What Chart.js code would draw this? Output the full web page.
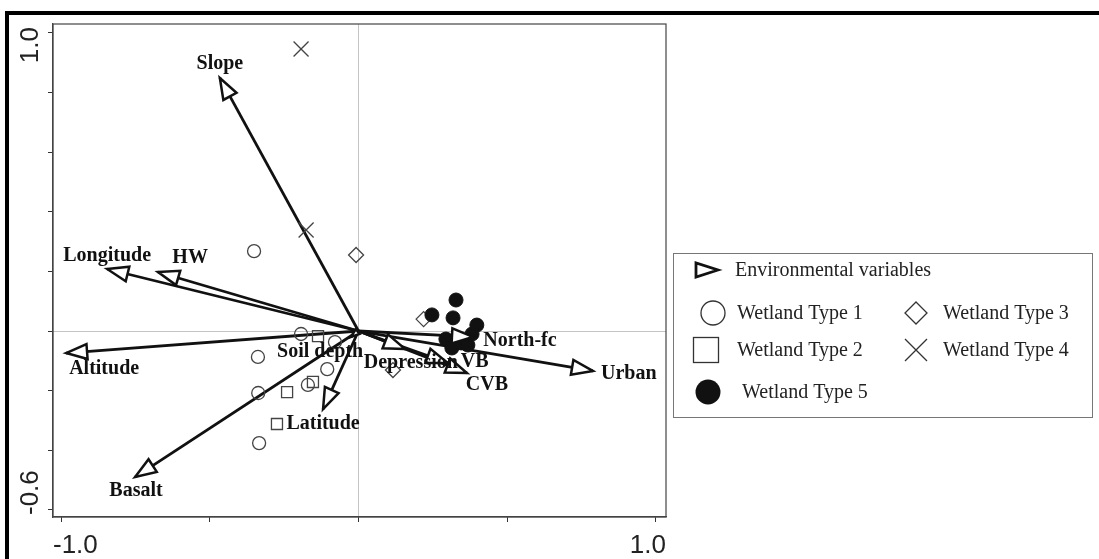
<!DOCTYPE html>
<html><head><meta charset="utf-8">
<script src="https://cdn.jsdelivr.net/npm/chart.js@4.4.0/dist/chart.umd.min.js"></script>
<style>
html,body{margin:0;padding:0;background:#fff;}
#wrap{position:relative;width:1099px;height:559px;overflow:hidden;}
#frame{position:absolute;left:5px;top:11px;right:-10px;bottom:-10px;border-top:4px solid #000;border-left:4px solid #000;pointer-events:none;}
canvas{position:absolute;left:0;top:0;}
</style></head><body>
<div id="wrap"><canvas id="c" width="1099" height="559"></canvas><div id="frame"></div></div>
<script>
// ---- data ----
const envNames = ['Slope','Longitude','HW','Altitude','Basalt','Latitude','Soil depth','Depression','VB','CVB','North-fc','Urban'];
const envX = [-0.466,-0.845,-0.674,-0.983,-0.751,-0.119,-0.025, 0.156, 0.300, 0.365, 0.385, 0.788];
const envY = [ 0.849, 0.208, 0.198,-0.074,-0.490,-0.262,-0.020,-0.060,-0.107,-0.141,-0.020,-0.134];
const envLabelX = [-0.466,-0.845,-0.566,-0.855,-0.748,-0.119,-0.129, 0.176, 0.391, 0.432, 0.543, 0.909];
const envLabelY = [ 0.896, 0.252, 0.245,-0.128,-0.537,-0.312,-0.070,-0.107,-0.104,-0.181,-0.034,-0.144];

const type1X = [-0.351,-0.193,-0.338,-0.079,-0.105,-0.170,-0.337,-0.334];
const type1Y = [ 0.268,-0.010,-0.087,-0.037,-0.128,-0.181,-0.208,-0.376];
const type2X = [-0.136,-0.240,-0.153,-0.274];
const type2Y = [-0.017,-0.205,-0.171,-0.312];
const type3X = [-0.008, 0.219, 0.116];
const type3Y = [ 0.255, 0.040,-0.131];
const type4X = [-0.193,-0.176];
const type4Y = [ 0.946, 0.339];
const type5X = [0.328,0.247,0.318,0.398,0.294,0.314,0.345,0.368,0.382];
const type5Y = [0.104,0.054,0.044,0.020,-0.027,-0.057,-0.040,-0.047,-0.010];

const xTicks = [-1.0,-0.5,0,0.5,1.0];
const yTicks = [-0.6,-0.4,-0.2,0,0.2,0.4,0.6,0.8,1.0];
const xTickLabels = ['-1.0','1.0'];
const yTickLabels = ['-0.6','1.0'];
const legendLabels = ['Environmental variables','Wetland Type 1','Wetland Type 2','Wetland Type 3','Wetland Type 4','Wetland Type 5'];

// ---- build ----
const pts = (xs, ys) => xs.map((x, i) => ({x, y: ys[i]}));
const datasets = [];
datasets.push({label:legendLabels[5], data:pts(type5X,type5Y), pointStyle:'circle', pointRadius:7, pointHoverRadius:7, backgroundColor:'#111', borderColor:'#111', borderWidth:1});
datasets.push({label:legendLabels[1], data:pts(type1X,type1Y), pointStyle:'circle', pointRadius:6.5, pointHoverRadius:6.5, backgroundColor:'rgba(0,0,0,0)', borderColor:'#444', borderWidth:1.3});
datasets.push({label:legendLabels[2], data:pts(type2X,type2Y), pointStyle:'rect', pointRadius:7.8, pointHoverRadius:7.8, backgroundColor:'rgba(0,0,0,0)', borderColor:'#444', borderWidth:1.3});
datasets.push({label:legendLabels[3], data:pts(type3X,type3Y), pointStyle:'rectRot', pointRadius:7.5, pointHoverRadius:7.5, backgroundColor:'rgba(0,0,0,0)', borderColor:'#444', borderWidth:1.3});
datasets.push({label:legendLabels[4], data:pts(type4X,type4Y), pointStyle:'crossRot', pointRadius:10.6, pointHoverRadius:10.6, backgroundColor:'rgba(0,0,0,0)', borderColor:'#444', borderWidth:1.3});
envNames.forEach((n, i) => {
  datasets.push({label:n, data:[{x:0,y:0},{x:envX[i],y:envY[i]}], showLine:true, pointRadius:0, pointHoverRadius:0, borderColor:'#111', borderWidth:2.8});
});

function head(ctx, tx, ty, ang, len, half, lw) {
  const c = Math.cos(ang), s = Math.sin(ang);
  const bx = tx - len * c, by = ty - len * s;
  ctx.beginPath();
  ctx.moveTo(tx, ty);
  ctx.lineTo(bx - half * s, by + half * c);
  ctx.lineTo(bx + half * s, by - half * c);
  ctx.closePath();
  ctx.fillStyle = '#fff';
  ctx.fill();
  ctx.lineWidth = lw;
  ctx.strokeStyle = '#111';
  ctx.lineJoin = 'miter';
  ctx.stroke();
}

const decor = {
  id: 'decor',
  afterDatasetsDraw(chart) {
    const ctx = chart.ctx, xs = chart.scales.x, ys = chart.scales.y;
    const ox = xs.getPixelForValue(0), oy = ys.getPixelForValue(0);
    ctx.save();
    envNames.forEach((n, i) => {
      const tx = xs.getPixelForValue(envX[i]), ty = ys.getPixelForValue(envY[i]);
      const d = Math.hypot(tx - ox, ty - oy);
      const ang = Math.atan2(ty - oy, tx - ox);
      const len = Math.min(21, d * 0.9);
      head(ctx, tx, ty, ang, len, len * 7.5 / 21, 2.5);
    });
    ctx.fillStyle = '#111';
    ctx.font = 'bold 20px "Liberation Serif", "Times New Roman", serif';
    ctx.textAlign = 'center';
    ctx.textBaseline = 'middle';
    envNames.forEach((n, i) => {
      ctx.fillText(n, xs.getPixelForValue(envLabelX[i]), ys.getPixelForValue(envLabelY[i]));
    });
    ctx.restore();
  },
  afterDraw(chart) {
    const ctx = chart.ctx, a = chart.chartArea;
    ctx.save();
    ctx.strokeStyle = '#444';
    ctx.lineWidth = 1.2;
    ctx.strokeRect(a.left, a.top, a.right - a.left, a.bottom - a.top);
    ctx.fillStyle = '#222';
    ctx.font = '26px "Liberation Sans", Arial, sans-serif';
    ctx.textBaseline = 'alphabetic';
    ctx.textAlign = 'left';
    ctx.fillText(xTickLabels[0], a.left, 553);
    ctx.textAlign = 'right';
    ctx.fillText(xTickLabels[1], a.right, 553);
    ctx.save();
    ctx.translate(38, a.bottom - 2);
    ctx.rotate(-Math.PI / 2);
    ctx.textAlign = 'left';
    ctx.fillText(yTickLabels[0], 0, 0);
    ctx.restore();
    ctx.save();
    ctx.translate(38, a.top + 3);
    ctx.rotate(-Math.PI / 2);
    ctx.textAlign = 'right';
    ctx.fillText(yTickLabels[1], 0, 0);
    ctx.restore();
    // legend
    ctx.strokeStyle = '#777';
    ctx.lineWidth = 1;
    ctx.strokeRect(673.5, 253.5, 419, 164);
    ctx.font = '20px "Liberation Serif", "Times New Roman", serif';
    ctx.textAlign = 'left';
    ctx.textBaseline = 'middle';
    head(ctx, 718, 270, 0, 22, 7, 2.8);
    ctx.fillStyle = '#222';
    ctx.fillText(legendLabels[0], 735, 271);
    ctx.fillText(legendLabels[1], 737, 314);
    ctx.fillText(legendLabels[3], 943, 314);
    ctx.fillText(legendLabels[2], 737, 351);
    ctx.fillText(legendLabels[4], 943, 351);
    ctx.fillText(legendLabels[5], 742, 393);
    ctx.strokeStyle = '#333';
    ctx.lineWidth = 1.3;
    ctx.beginPath(); ctx.arc(713, 313, 12, 0, Math.PI * 2); ctx.stroke();
    ctx.strokeRect(693.5, 337.5, 25, 25);
    ctx.beginPath();
    ctx.moveTo(916, 302); ctx.lineTo(927, 313); ctx.lineTo(916, 324); ctx.lineTo(905, 313); ctx.closePath(); ctx.stroke();
    ctx.beginPath();
    ctx.moveTo(905, 339); ctx.lineTo(927, 361); ctx.moveTo(927, 339); ctx.lineTo(905, 361); ctx.stroke();
    ctx.fillStyle = '#111';
    ctx.beginPath(); ctx.arc(708, 392, 12.5, 0, Math.PI * 2); ctx.fill();
    ctx.restore();
  }
};

const gridColor = (c) => (c.tick && c.tick.value === 0) ? '#c4c4c4' : 'rgba(0,0,0,0)';

new Chart(document.getElementById('c'), {
  type: 'scatter',
  data: { datasets },
  options: {
    responsive: false,
    animation: false,
    devicePixelRatio: 1,
    layout: { padding: { left: 53, right: 433, top: 24, bottom: 42 } },
    plugins: { legend: { display: false }, tooltip: { enabled: false } },
    scales: {
      x: {
        type: 'linear', min: -1.027, max: 1.034,
        afterBuildTicks: (s) => { s.ticks = xTicks.map(v => ({ value: v })); },
        afterFit: (s) => { s.height = 0; },
        ticks: { display: false },
        grid: { color: gridColor, lineWidth: 1, drawTicks: true, tickLength: 5, tickColor: '#333', tickWidth: 1 },
        border: { display: true, color: '#444', width: 1.2 }
      },
      y: {
        type: 'linear', min: -0.624, max: 1.030,
        afterBuildTicks: (s) => { s.ticks = yTicks.map(v => ({ value: v })); },
        afterFit: (s) => { s.width = 0; },
        ticks: { display: false },
        grid: { color: gridColor, lineWidth: 1, drawTicks: true, tickLength: 5, tickColor: '#333', tickWidth: 1 },
        border: { display: true, color: '#444', width: 1.2 }
      }
    }
  },
  plugins: [decor]
});
</script>
</body></html>
